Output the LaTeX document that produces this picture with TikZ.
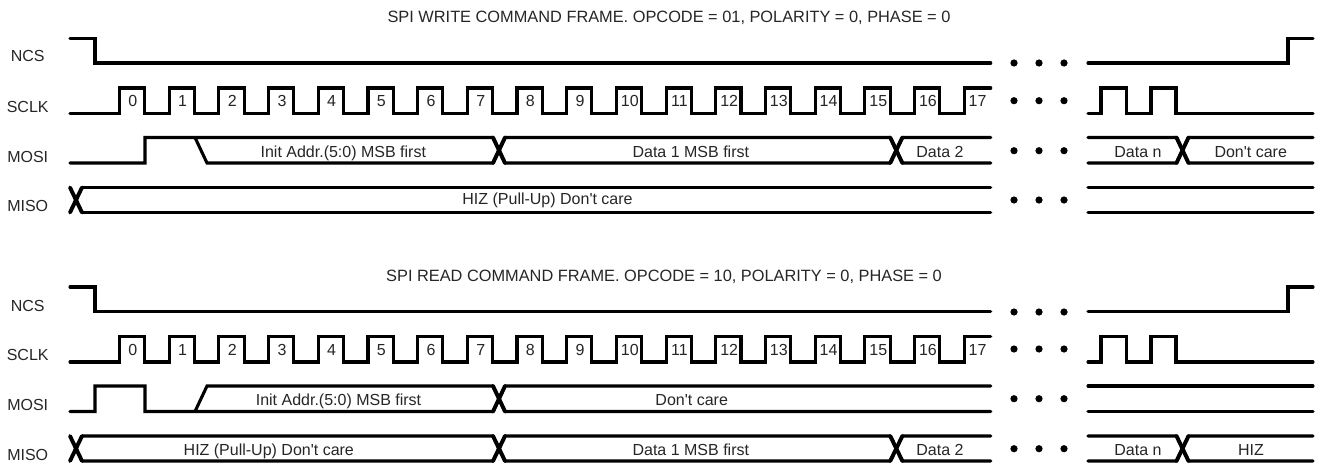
\documentclass[tikz,border=0pt]{standalone}
\usepackage{fontspec}
\newfontfamily\labfont{Liberation Sans}
\tikzset{
  wave/.style={line width=3.1pt,line cap=round,line join=miter,color=black},
  xarm/.style={line width=3.9pt,line cap=round,color=black},
  txt/.style={anchor=base,inner sep=0pt,outer sep=0pt,font=\labfont\fontsize{16}{17}\selectfont,text=black!85},
  ttl/.style={txt,font=\labfont\fontsize{16.35}{17}\selectfont},
  dig/.style={txt},
  dotm/.style={circle,fill=black,inner sep=0pt,minimum size=7.2pt}
}
\newcommand{\framerows}[1]{%
  \begin{scope}[yshift=#1]
    % NCS
    \draw[wave] (70,38.5) -- (95,38.5) -- (95,63) -- (990.7,63);
    \draw[wave] (1088,63) -- (1288,63) -- (1288,38.5) -- (1313,38.5);
    % SCLK
    \draw[wave] (70,113.5) \foreach \k in {0,...,16}{
      -- ({119.5+49.69*\k},113.5) -- ({119.5+49.69*\k},88) -- ({144.7+49.69*\k},88) -- ({144.7+49.69*\k},113.5)}
      -- (964.3,113.5) -- (964.3,88) -- (990.7,88);
    \draw[wave] (1088,113.5) -- (1101,113.5) -- (1101,88) -- (1126.5,88) -- (1126.5,113.5) -- (1151,113.5) -- (1151,88) -- (1176,88) -- (1176,113.5) -- (1313,113.5);
  \end{scope}
}
\newcommand{\crossing}[3]{%
  \draw[xarm] (#1,#2) -- ({#1+12},#3);
  \draw[xarm] (#1,#3) -- ({#1+12},#2);
}
\begin{document}
\begin{tikzpicture}[x=1pt,y=-1pt]
\useasboundingbox (0,0) rectangle (1317,463);
\fill[white] (0,0) rectangle (1317,463);

\framerows{0pt}
\framerows{-248.5pt}

% ---------- write frame
% MOSI
\draw[wave] (70,163) -- (145,163) -- (145,137.5) -- (493,137.5) -- (505,163) -- (890,163) -- (902.5,137.5) -- (990.7,137.5);
\draw[wave] (195,137.5) -- (207,163) -- (493,163) -- (505,137.5) -- (890,137.5) -- (902.5,163) -- (990.7,163);
\draw[wave] (1088,137.5) -- (1176.5,137.5) -- (1188.5,163) -- (1313,163);
\draw[wave] (1088,163) -- (1176.5,163) -- (1188.5,137.5) -- (1313,137.5);
\crossing{493}{137.5}{163}
\crossing{890.3}{137.5}{163}
\crossing{1176.5}{137.5}{163}
% MISO
\draw[wave] (82,212.5) -- (990.7,212.5);
\draw[wave] (82,187.5) -- (990.7,187.5);
\crossing{70}{187.5}{212.5}
\draw[wave] (1088,187.5) -- (1313,187.5);
\draw[wave] (1088,212.5) -- (1313,212.5);

% ---------- read frame
% MOSI
\draw[wave] (70,411.5) -- (95,411.5) -- (95,386) -- (145,386) -- (145,411.5) -- (493,411.5) -- (505,386) -- (990.7,386);
\draw[wave] (195,411.5) -- (207,386) -- (493,386) -- (505,411.5) -- (990.7,411.5);
\crossing{493}{386}{411.5}
\draw[wave] (1088,386) -- (1313,386);
\draw[wave] (1088,411.5) -- (1313,411.5);
% MISO
\draw[wave] (82,461) -- (493,461) -- (505,436) -- (890,436) -- (902.5,461) -- (990.7,461);
\draw[wave] (82,436) -- (493,436) -- (505,461) -- (890,461) -- (902.5,436) -- (990.7,436);
\draw[wave] (1088,436) -- (1176.5,436) -- (1188.5,461) -- (1313,461);
\draw[wave] (1088,461) -- (1176.5,461) -- (1188.5,436) -- (1313,436);
\crossing{70}{436}{461}
\crossing{493}{436}{461}
\crossing{890.3}{436}{461}
\crossing{1176.5}{436}{461}

% ---------- ellipsis dots
\foreach \yy [count=\r] in {63,100.7,150.7,200,312,349,398.7,448.7}
  \foreach \xx [count=\c] in {1014,1039,1064}
    \node[dotm] (dot\r-\c) at (\xx,\yy) {};

% ---------- clock numbers
\foreach \k in {0,...,17}{
  \node[dig] (wn\k) at ({132.9+49.69*\k},106.7) {\k};
  \node[dig] (rn\k) at ({132.9+49.69*\k},355.7) {\k};
}

% ---------- titles and signal names
\node[ttl] (wtitle) at (669,22.7) {SPI WRITE COMMAND FRAME. OPCODE = 01, POLARITY = 0, PHASE = 0};
\node[ttl] (rtitle) at (664,281.3) {SPI READ COMMAND FRAME. OPCODE = 10, POLARITY = 0, PHASE = 0};
\node[txt] (wncs) at (27.7,61.7) {NCS};
\node[txt] (wsclk) at (27.7,112.5) {SCLK};
\node[txt] (wmosi) at (27.7,162.3) {MOSI};
\node[txt] (wmiso) at (27.7,211.7) {MISO};
\node[txt] (rncs) at (27.7,311.3) {NCS};
\node[txt] (rsclk) at (27.7,360.3) {SCLK};
\node[txt] (rmosi) at (27.7,410.7) {MOSI};
\node[txt] (rmiso) at (27.7,460.3) {MISO};

% ---------- bus labels, write
\node[txt] (wa) at (343.3,157.3) {Init Addr.(5:0) MSB first};
\node[txt] (wb) at (690.8,157.3) {Data 1 MSB first};
\node[txt] (wc) at (940,157.3) {Data 2};
\node[txt] (wd) at (1138,157.3) {Data n};
\node[txt] (we) at (1250.7,157.3) {Don't care};
\node[txt] (wf) at (547.5,204) {HIZ (Pull-Up) Don't care};
% ---------- bus labels, read
\node[txt] (ra) at (338.5,405.3) {Init Addr.(5:0) MSB first};
\node[txt] (rb) at (691.7,405.3) {Don't care};
\node[txt] (rc) at (268.8,455.3) {HIZ (Pull-Up) Don't care};
\node[txt] (rd) at (690.8,455.3) {Data 1 MSB first};
\node[txt] (re) at (940,455.3) {Data 2};
\node[txt] (rf) at (1138,455.3) {Data n};
\node[txt] (rg) at (1251,455.3) {HIZ};
\end{tikzpicture}
\end{document}
